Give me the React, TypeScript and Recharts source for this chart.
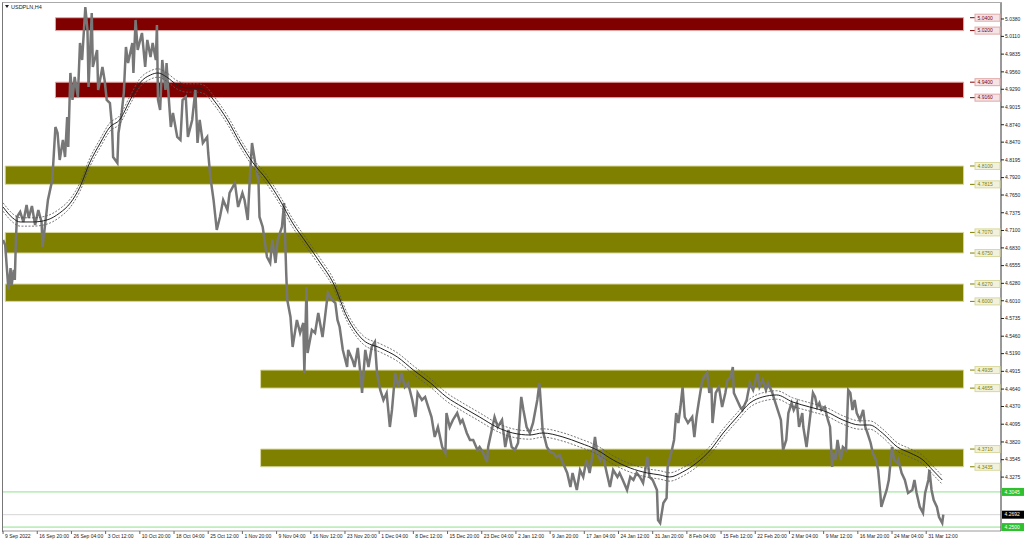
import React from "react";
import {
  ComposedChart,
  Line,
  XAxis,
  YAxis,
  ReferenceArea,
  ReferenceLine,
  ReferenceDot,
} from "recharts";

// USDPLN H4, bar index counted from 9 Sep 2022 00:00
const PRICE_BARS = [
  0, 2, 4, 5, 7, 8, 10, 11, 12, 13,
  16, 19, 22, 24, 27, 30, 33, 36, 37, 39,
  42, 46, 47, 49, 51, 53, 56, 58, 60, 61,
  63, 65, 67, 70, 72, 74, 77, 79, 80, 83,
  84, 88, 89, 93, 95, 97, 100, 102, 103, 107,
  108, 111, 113, 115, 117, 121, 122, 124, 126, 130,
  133, 135, 138, 140, 143, 144, 145, 147, 149, 152,
  153, 155, 157, 159, 163, 166, 168, 171, 173, 177,
  180, 182, 184, 187, 191, 192, 194, 197, 200, 203,
  206, 210, 212, 217, 220, 224, 226, 229, 231, 233,
  236, 239, 240, 243, 247, 250, 252, 255, 257, 261,
  263, 265, 266, 269, 271, 275, 278, 281, 282, 284,
  285, 289, 292, 295, 299, 301, 304, 308, 311, 313,
  315, 318, 322, 323, 327, 329, 332, 335, 336, 339,
  342, 345, 348, 350, 353, 356, 359, 362, 364, 367,
  370, 373, 376, 379, 383, 386, 388, 392, 395, 398,
  401, 404, 407, 411, 414, 415, 418, 421, 425, 428,
  430, 434, 437, 440, 444, 446, 449, 453, 454, 458,
  460, 463, 467, 470, 473, 476, 479, 482, 485, 487,
  490, 493, 496, 500, 502, 505, 509, 512, 515, 518,
  521, 524, 528, 531, 533, 537, 540, 543, 546, 549,
  552, 554, 556, 559, 561, 565, 568, 571, 575, 577,
  580, 584, 587, 590, 593, 596, 599, 603, 605, 608,
  612, 613, 615, 618, 621, 622, 626, 628, 630, 632,
  634, 636, 638, 641, 645, 647, 649, 651, 654, 656,
  659, 661, 663, 664, 667, 670, 673, 676, 678, 681,
  683, 684, 687, 690, 692, 696, 699, 702, 706, 708,
  711, 714, 716, 720, 722, 725, 728, 730, 733, 735,
  738, 740, 743, 745, 748, 749, 752, 755, 758, 760,
  762, 764, 766, 769, 772, 774, 776, 777, 779, 781,
  784, 786, 789, 791, 793, 795, 797, 799, 802, 805,
  807, 809, 812, 814, 817, 819, 821, 822, 824, 827,
  829, 832, 834, 837, 838, 841, 844, 847, 851, 853,
  855, 858, 861, 863, 866, 867, 869, 871, 874, 876,
  879, 880,
];

const PRICE_CLOSE = [
  4.6953, 4.6875, 4.641, 4.6177, 4.6518, 4.6255, 4.6487, 4.6332, 4.6953, 4.7309,
  4.7387, 4.7232, 4.7496, 4.7294, 4.748, 4.7185, 4.7418, 4.7232, 4.6844, 4.7139,
  4.7573, 4.7883, 4.8147, 4.8705, 4.8612, 4.8193, 4.8504, 4.824, 4.886, 4.8395,
  4.9543, 4.9124, 4.9481, 4.9171, 5.0008, 4.9744, 5.0566, 5.021, 4.9326, 5.0473,
  4.9636, 4.99, 4.9279, 4.9636, 4.9434, 4.9124, 4.9077, 4.8705, 4.824, 4.8147,
  4.8612, 4.8922, 4.9233, 4.9946, 4.9698, 5.0008, 4.9543, 5.0365, 4.99, 5.0163,
  4.9636, 5.0055, 4.9791, 5.0008, 4.9744, 5.0287, 4.9124, 4.8969, 4.9744, 4.9279,
  4.9698, 4.9171, 4.8705, 4.8922, 4.855, 4.8504, 4.9124, 4.9171, 4.855, 4.8814,
  4.9279, 4.8457, 4.8814, 4.8457, 4.855, 4.8302, 4.793, 4.7573, 4.7108, 4.7309,
  4.7573, 4.7418, 4.7682, 4.7837, 4.7464, 4.7682, 4.7573, 4.7263, 4.793, 4.8457,
  4.8147, 4.7883, 4.7309, 4.7154, 4.6689, 4.6596, 4.6953, 4.6596, 4.6953, 4.7154,
  4.7527, 4.6441, 4.6022, 4.5758, 4.5293, 4.5712, 4.551, 4.5665, 4.489, 4.6224,
  4.52, 4.5557, 4.551, 4.582, 4.5448, 4.5712, 4.6131, 4.6022, 4.5975, 4.5712,
  4.5603, 4.5247, 4.4983, 4.5247, 4.5091, 4.4983, 4.5278, 4.4781, 4.458, 4.5247,
  4.4983, 4.5293, 4.5371, 4.489, 4.4626, 4.4471, 4.458, 4.4052, 4.4316, 4.489,
  4.4673, 4.489, 4.4673, 4.4735, 4.4471, 4.4207, 4.458, 4.4471, 4.4518, 4.4362,
  4.4207, 4.3897, 4.4052, 4.3742, 4.3649, 4.4269, 4.4052, 4.4161, 4.4269, 4.4114,
  4.4161, 4.3959, 4.3851, 4.3851, 4.3695, 4.3742, 4.3664, 4.3509, 4.3742, 4.4052,
  4.4207, 4.4052, 4.4161, 4.3742, 4.4005, 4.3742, 4.3695, 4.3804, 4.4518, 4.4316,
  4.4052, 4.3959, 4.4114, 4.4471, 4.4735, 4.4005, 4.3742, 4.3664, 4.3649, 4.3587,
  4.3618, 4.3494, 4.3339, 4.3122, 4.3339, 4.3075, 4.3385, 4.3277, 4.354, 4.3339,
  4.3649, 4.3897, 4.3649, 4.354, 4.3649, 4.3339, 4.3122, 4.3385, 4.3277, 4.3339,
  4.323, 4.3075, 4.3277, 4.323, 4.3339, 4.3277, 4.3184, 4.3587, 4.3277, 4.323,
  4.3075, 4.261, 4.2563, 4.2874, 4.2951, 4.3432, 4.3695, 4.3851, 4.4269, 4.4114,
  4.4362, 4.4673, 4.4207, 4.4114, 4.4207, 4.3897, 4.4207, 4.4424, 4.4735, 4.4828,
  4.489, 4.458, 4.4673, 4.4114, 4.458, 4.4673, 4.4362, 4.458, 4.4781, 4.4828,
  4.4983, 4.458, 4.4471, 4.4362, 4.4316, 4.4471, 4.4735, 4.4626, 4.489, 4.4673,
  4.4781, 4.4626, 4.4735, 4.458, 4.4471, 4.4316, 4.4161, 4.3695, 4.3851, 4.4269,
  4.4424, 4.4316, 4.4424, 4.4052, 4.4269, 4.4052, 4.3742, 4.4161, 4.458, 4.4518,
  4.4362, 4.4424, 4.4316, 4.4362, 4.4161, 4.4052, 4.3432, 4.3649, 4.354, 4.3851,
  4.354, 4.3742, 4.3695, 4.4626, 4.458, 4.4316, 4.4471, 4.4269, 4.4161, 4.4316,
  4.4052, 4.3959, 4.3804, 4.3649, 4.354, 4.3385, 4.3029, 4.2812, 4.292, 4.3075,
  4.323, 4.3742, 4.354, 4.3494, 4.354, 4.3339, 4.323, 4.3029, 4.3075, 4.323,
  4.3029, 4.2812, 4.2718, 4.3029, 4.323, 4.3385, 4.3075, 4.292, 4.2812, 4.2656,
  4.2563, 4.2692,
];

// moving average of the close, and its envelope deviation
const MA_BARS = [
  0, 9, 16, 28, 41, 53, 63, 72, 81, 91,
  100, 109, 119, 128, 138, 145, 153, 163, 172, 182,
  189, 197, 210, 222, 234, 247, 259, 271, 284, 297,
  309, 322, 337, 353, 369, 384, 400, 415, 430, 446,
  462, 477, 493, 505, 524, 540, 556, 571, 587, 603,
  615, 624, 636, 649, 662, 674, 687, 699, 711, 724,
  739, 755, 771, 786, 802, 811, 823, 837, 849, 861,
  870, 879,
];
const MA_VALUES = [
  4.7464, 4.7294, 4.7232, 4.7232, 4.7263, 4.7371, 4.7527, 4.7775, 4.8147, 4.8457,
  4.8705, 4.8814, 4.9124, 4.9388, 4.9512, 4.9543, 4.9481, 4.9357, 4.931, 4.931,
  4.9279, 4.9124, 4.8814, 4.8457, 4.8147, 4.7883, 4.7573, 4.7216, 4.6906, 4.6596,
  4.6286, 4.5758, 4.5402, 4.5278, 4.5138, 4.4936, 4.4735, 4.4518, 4.4362, 4.4207,
  4.4052, 4.3959, 4.3928, 4.3959, 4.3897, 4.3804, 4.3695, 4.354, 4.3416, 4.3339,
  4.3308, 4.3277, 4.3354, 4.3494, 4.3695, 4.3959, 4.4207, 4.4424, 4.4518, 4.4549,
  4.444, 4.4362, 4.4285, 4.4161, 4.4083, 4.4083, 4.3959, 4.3742, 4.3649, 4.354,
  4.3385, 4.323,
];
const ENVELOPE_DEV = 0.0065;

// supply / demand zones
const ZONE_HIGH = [5.04, 4.94, 4.81, 4.707, 4.627, 4.4935, 4.371];
const ZONE_LOW = [5.02, 4.916, 4.7815, 4.675, 4.6, 4.4655, 4.3435];
const ZONE_START = [49, 49, 2, 2, 2, 241, 241];
const ZONE_KIND = ["major", "major", "minor", "minor", "minor", "minor", "minor"];
const ZONE_END = 899;
const ZONE_LABEL_BAR = 905;

// horizontal levels on the price scale
const LEVEL_PRICES = [4.3045, 4.2692, 4.25];
const LEVEL_KIND = ["line", "bid", "line"];

const PRICE_TICKS = [
  5.038, 5.011, 4.9835, 4.956, 4.929, 4.9015, 4.874, 4.847, 4.8195, 4.792,
  4.765, 4.7375, 4.71, 4.683, 4.6555, 4.628, 4.601, 4.5735, 4.546, 4.519,
  4.4915, 4.464, 4.437, 4.4095, 4.382, 4.3545, 4.3275,
];

const DATE_LABELS = [
  "9 Sep 2022", "16 Sep 20:00", "26 Sep 04:00", "3 Oct 12:00", "10 Oct 20:00",
  "18 Oct 04:00", "25 Oct 12:00", "1 Nov 20:00", "9 Nov 04:00", "16 Nov 12:00",
  "23 Nov 20:00", "1 Dec 04:00", "8 Dec 12:00", "15 Dec 20:00", "23 Dec 04:00",
  "2 Jan 12:00", "9 Jan 20:00", "17 Jan 04:00", "24 Jan 12:00", "31 Jan 20:00",
  "8 Feb 04:00", "15 Feb 12:00", "22 Feb 20:00", "2 Mar 04:00", "9 Mar 12:00",
  "16 Mar 20:00", "24 Mar 04:00", "31 Mar 12:00",
];
const BARS_PER_LABEL = 32;

const FONT = "'Liberation Sans', Arial, sans-serif";
const FS = 5;

const ZONE_STYLE: Record<string, { fill: string; edge: string; text: string; box: string }> = {
  major: { fill: "#800000", edge: "#e0a8a8", text: "#800000", box: "#f6e4e4" },
  minor: { fill: "#808000", edge: "#d8d8a0", text: "#808000", box: "#f2f2dc" },
};

const priceData = PRICE_BARS.map((t, i) => ({ t, close: PRICE_CLOSE[i] }));
const maData = MA_BARS.map((t, i) => ({
  t,
  ma: MA_VALUES[i],
  upper: MA_VALUES[i] + ENVELOPE_DEV,
  lower: MA_VALUES[i] - ENVELOPE_DEV,
}));
const dateTicks = DATE_LABELS.map((_, i) => i * BARS_PER_LABEL);
const allPriceTicks = [...PRICE_TICKS, ...LEVEL_PRICES];

function DateTick(props: any) {
  const { x, y, payload } = props;
  const label = DATE_LABELS[Math.round(payload.value / BARS_PER_LABEL)];
  return (
    <g>
      <line x1={x} x2={x} y1={y} y2={y + 3} stroke="#666" />
      <text x={x + 2} y={y + 7} fontSize={FS} fill="#222" fontFamily={FONT}>
        {label}
      </text>
    </g>
  );
}

function PriceTick(props: any) {
  const { x, y, payload } = props;
  const v = payload.value as number;
  const k = LEVEL_PRICES.indexOf(v);
  if (k >= 0) {
    const bg = LEVEL_KIND[k] === "bid" ? "#000000" : "#2fc02f";
    return (
      <g>
        <rect x={x + 1} y={y - 4} width={22} height={8} fill={bg} />
        <text x={x + 3.5} y={y + 1.8} fontSize={FS} fill="#ffffff" fontFamily={FONT}>
          {v.toFixed(4)}
        </text>
      </g>
    );
  }
  return (
    <g>
      <line x1={x} x2={x + 3} y1={y} y2={y} stroke="#222" />
      <text x={x + 4} y={y + 1.8} fontSize={FS} fill="#222" fontFamily={FONT}>
        {v.toFixed(4)}
      </text>
    </g>
  );
}

function zoneLabel(value: number, kind: string) {
  const s = ZONE_STYLE[kind];
  return (props: any) => {
    const { cx, cy } = props;
    return (
      <g>
        <line x1={cx} x2={cx + 6} y1={cy} y2={cy} stroke={s.fill} />
        <rect x={cx + 5} y={cy - 3.5} width={25} height={7} fill={s.box} stroke={s.edge} />
        <text x={cx + 7.5} y={cy + 1.8} fontSize={FS} fill={s.text} fontFamily={FONT}>
          {value.toFixed(4)}
        </text>
      </g>
    );
  };
}

export default function App() {
  return (
    <div style={{ position: "fixed", left: 0, top: 0, width: 1024, height: 544, background: "#fff", fontFamily: FONT }}>
      <ComposedChart width={1024} height={544} margin={{ top: 3, right: 0, bottom: 0, left: 2 }}>
        <XAxis
          xAxisId="t"
          type="number"
          dataKey="t"
          domain={[-1, 934]}
          allowDataOverflow
          ticks={dateTicks}
          interval={0}
          height={13}
          tickSize={0}
          tickMargin={0}
          tickLine={false}
          axisLine={{ stroke: "#9a9a9a" }}
          tick={<DateTick />}
        />
        <YAxis
          yAxisId="p"
          orientation="right"
          type="number"
          domain={[4.2439, 5.0628]}
          allowDataOverflow
          ticks={allPriceTicks}
          interval={0}
          width={23}
          tickSize={0}
          tickMargin={0}
          tickLine={false}
          axisLine={{ stroke: "#333" }}
          tick={<PriceTick />}
        />
        {ZONE_HIGH.map((hi, i) => (
          <ReferenceArea
            key={"z" + i}
            xAxisId="t"
            yAxisId="p"
            x1={ZONE_START[i]}
            x2={ZONE_END}
            y1={ZONE_LOW[i]}
            y2={hi}
            fill={ZONE_STYLE[ZONE_KIND[i]].fill}
            fillOpacity={1}
            stroke={ZONE_STYLE[ZONE_KIND[i]].edge}
            strokeWidth={1}
          />
        ))}
        {LEVEL_PRICES.map((p, i) => (
          <ReferenceLine
            key={"l" + i}
            xAxisId="t"
            yAxisId="p"
            y={p}
            stroke={LEVEL_KIND[i] === "bid" ? "#d6d6d6" : "#8fe08f"}
            strokeWidth={1}
          />
        ))}
        <Line
          xAxisId="t"
          yAxisId="p"
          data={priceData}
          dataKey="close"
          type="linear"
          stroke="#777777"
          strokeWidth={2.5}
          strokeLinejoin="miter"
          dot={false}
          isAnimationActive={false}
        />
        <Line
          xAxisId="t"
          yAxisId="p"
          data={maData}
          dataKey="upper"
          type="monotone"
          stroke="#555"
          strokeWidth={0.8}
          strokeDasharray="2 1.5"
          dot={false}
          isAnimationActive={false}
        />
        <Line
          xAxisId="t"
          yAxisId="p"
          data={maData}
          dataKey="lower"
          type="monotone"
          stroke="#555"
          strokeWidth={0.8}
          strokeDasharray="2 1.5"
          dot={false}
          isAnimationActive={false}
        />
        <Line
          xAxisId="t"
          yAxisId="p"
          data={maData}
          dataKey="ma"
          type="monotone"
          stroke="#222"
          strokeWidth={1}
          dot={false}
          isAnimationActive={false}
        />
        {ZONE_HIGH.map((hi, i) =>
          [hi, ZONE_LOW[i]].map((v, j) => (
            <ReferenceDot
              key={"d" + i + "-" + j}
              xAxisId="t"
              yAxisId="p"
              x={ZONE_LABEL_BAR}
              y={v}
              r={0}
              shape={zoneLabel(v, ZONE_KIND[i])}
            />
          ))
        )}
      </ComposedChart>
      <div style={{ position: "absolute", left: 2, top: 2, width: 999, height: 529, borderLeft: "1px solid #777", borderTop: "1px solid #aaa", pointerEvents: "none" }} />
      <div style={{ position: "absolute", left: 5, top: 5, width: 0, height: 0, borderLeft: "2px solid transparent", borderRight: "2px solid transparent", borderTop: "3px solid #222" }} />
      <div style={{ position: "absolute", left: 11, top: 3, fontSize: 5.5, lineHeight: "8px", color: "#222" }}>USDPLN,H4</div>
    </div>
  );
}
